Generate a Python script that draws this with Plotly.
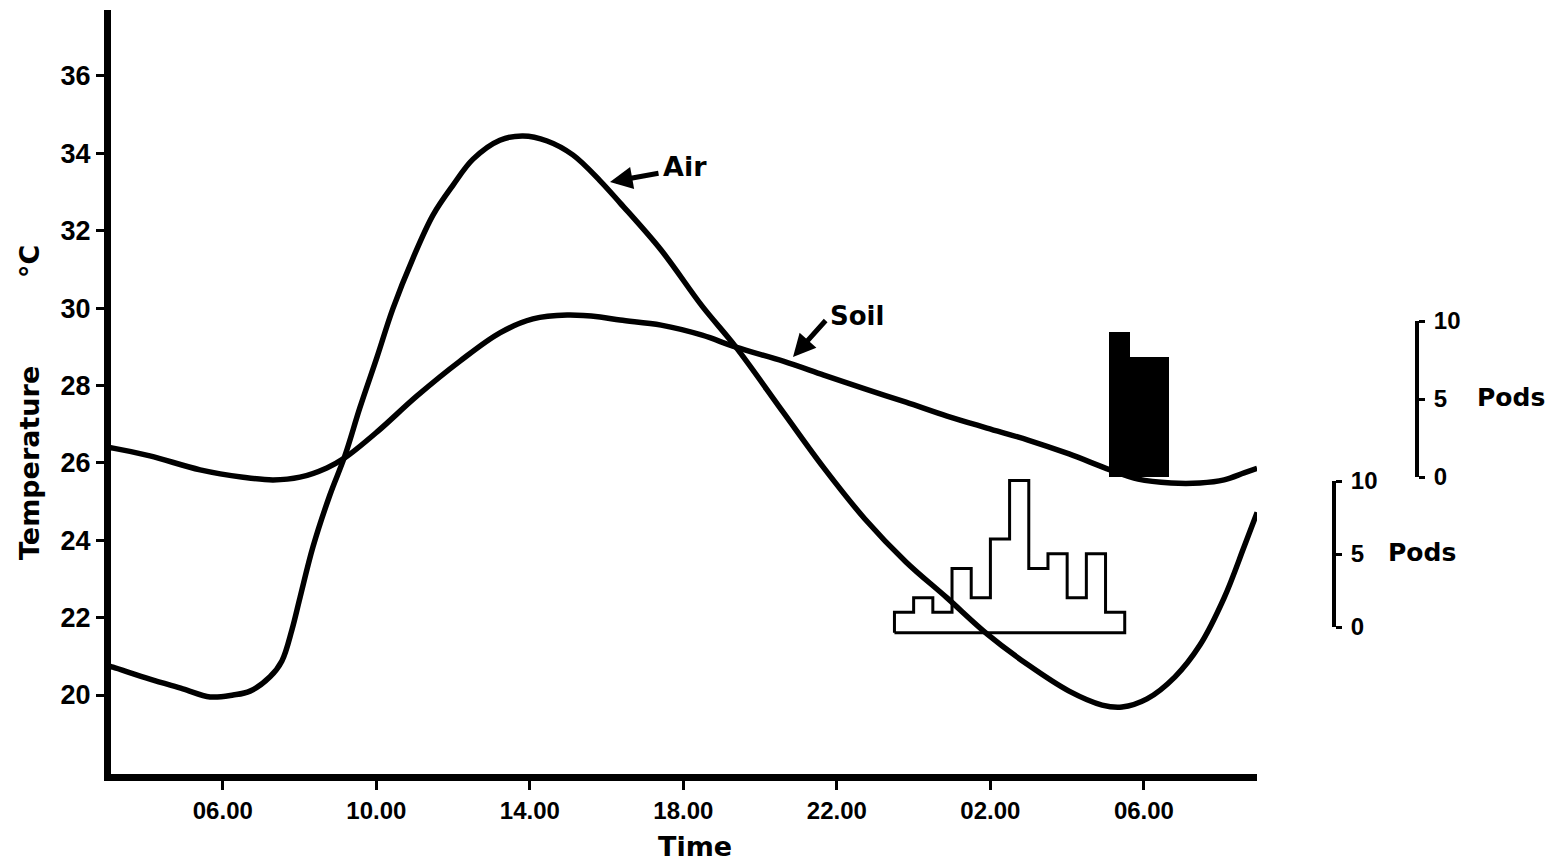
import plotly.graph_objects as go

# ---------------- data ----------------
air_hours = [3.0, 3.14, 4.10, 4.96, 5.67, 6.27, 6.71, 7.23, 7.54, 7.80, 8.01, 8.35, 8.79, 9.18,
             9.57, 10.02, 10.43, 10.96, 11.48, 12.00, 12.52, 13.22, 13.82, 14.45, 15.12, 15.83,
             16.35, 17.42, 18.49, 19.37, 20.60, 21.66, 22.73, 23.80, 24.87, 25.91, 26.98, 28.05,
             28.91, 29.43, 30.08, 30.81, 31.46, 32.09, 32.61, 32.95]
air_temp = [20.76, 20.72, 20.41, 20.16, 19.95, 20.0, 20.10, 20.47, 20.88, 21.68, 22.51, 23.83, 25.17, 26.18,
            27.42, 28.74, 29.98, 31.30, 32.41, 33.18, 33.85, 34.34, 34.45, 34.32, 33.96, 33.29,
            32.72, 31.50, 30.05, 28.99, 27.31, 25.87, 24.55, 23.44, 22.51, 21.58, 20.78, 20.10,
            19.74, 19.69, 19.90, 20.47, 21.29, 22.51, 23.83, 24.72]

soil_hours = [3.0, 3.14, 4.10, 5.41, 6.53, 7.31, 8.01, 8.71, 9.18, 10.02, 11.06, 12.18, 13.22, 14.08,
              14.97, 15.83, 16.35, 17.42, 18.49, 19.37, 20.60, 21.66, 22.73, 23.80, 24.87, 25.91,
              26.98, 28.05, 29.12, 29.85, 30.71, 31.46, 32.09, 32.61, 32.95]
soil_temp = [26.40, 26.38, 26.18, 25.82, 25.63, 25.56, 25.63, 25.87, 26.13, 26.80, 27.73, 28.63, 29.36, 29.72,
             29.82, 29.77, 29.69, 29.56, 29.30, 28.99, 28.63, 28.27, 27.91, 27.57, 27.21, 26.90,
             26.59, 26.23, 25.82, 25.58, 25.48, 25.48, 25.56, 25.74, 25.86]

time_tickvals = [6, 10, 14, 18, 22, 26, 30]
time_ticktext = ["06.00", "10.00", "14.00", "18.00", "22.00", "02.00", "06.00"]
temp_ticks = [20, 22, 24, 26, 28, 30, 32, 34, 36]

# open histogram (pods, lower scale)
open_edges = [23.5, 24.0, 24.5, 25.0, 25.5, 26.0, 26.5, 27.0, 27.5, 28.0, 28.5, 29.0, 29.5]
open_counts = [1, 2, 1, 4, 2, 6, 10, 4, 5, 2, 5, 1]
open_base = -0.4

# filled histogram (pods, upper scale)
filled_edges = [29.1, 29.65, 30.15, 30.65]
filled_counts = [9.3, 7.7, 7.7]

pod_ticks = [0, 5, 10]

# ---------------- geometry ----------------
W, H = 1557, 863
ML, MR, MT, MB = 111, 20, 10, 89
PW = W - ML - MR
PH = H - MT - MB
X_RIGHT_PX = 1257

def px_x(p):
    return (p - ML) / PW

def px_y(p):
    return (H - MB - p) / PH

BOLD = "Liberation Sans"
TXT = "DejaVu Sans"

fig = go.Figure()

fig.add_trace(go.Scatter(x=air_hours, y=air_temp, mode="lines",
                         line=dict(color="black", width=5.5, shape="spline", smoothing=1.0),
                         showlegend=False, hoverinfo="skip"))
fig.add_trace(go.Scatter(x=soil_hours, y=soil_temp, mode="lines",
                         line=dict(color="black", width=5.5, shape="spline", smoothing=1.0),
                         showlegend=False, hoverinfo="skip"))

# open histogram outline
ox = [open_edges[0]]
oy = [open_base]
for i, c in enumerate(open_counts):
    ox += [open_edges[i], open_edges[i + 1]]
    oy += [c, c]
ox += [open_edges[-1], open_edges[0]]
oy += [open_base, open_base]
fig.add_trace(go.Scatter(x=ox, y=oy, mode="lines", yaxis="y2",
                         line=dict(color="black", width=3), showlegend=False, hoverinfo="skip"))

# filled histogram
centers = [(filled_edges[i] + filled_edges[i + 1]) / 2 for i in range(len(filled_counts))]
widths = [filled_edges[i + 1] - filled_edges[i] for i in range(len(filled_counts))]
fig.add_trace(go.Bar(x=centers, y=filled_counts, width=widths, yaxis="y4",
                     marker=dict(color="black", line=dict(width=0)),
                     showlegend=False, hoverinfo="skip"))

# empty trace so that the lower pod scale exists
fig.add_trace(go.Scatter(x=[None], y=[None], yaxis="y3", showlegend=False, hoverinfo="skip"))

# ranges
x0 = 6 - (222.8 - ML) / 38.38
x1 = 6 + (X_RIGHT_PX - 222.8) / 38.38
y_bot = 20 - (H - MB - 695) / 38.69
y_top = 20 + (695 - MT) / 38.69
pod_px = 14.65
y2_bot = -(H - MB - 627) / pod_px
y2_top = (627 - MT) / pod_px

pod_axis = dict(range=[0, 10], tickvals=pod_ticks, anchor="free", side="right",
                showgrid=False, zeroline=False, showline=True, linecolor="black", linewidth=4,
                ticks="outside", ticklen=6, tickwidth=3, tickcolor="black",
                ticklabelstandoff=4, automargin=False,
                tickfont=dict(family=BOLD, size=24, color="black", weight="bold"))

fig.update_layout(
    width=W, height=H,
    margin=dict(l=ML, r=MR, t=MT, b=MB, autoexpand=False),
    paper_bgcolor="white", plot_bgcolor="rgba(0,0,0,0)",
    bargap=0,
    xaxis=dict(domain=[0, px_x(X_RIGHT_PX)], range=[x0, x1],
               tickvals=time_tickvals, ticktext=time_ticktext,
               showgrid=False, zeroline=False, showline=True, linecolor="black", linewidth=7,
               ticks="outside", ticklen=9, tickwidth=3, tickcolor="black",
               ticklabelstandoff=0, automargin=False,
               tickfont=dict(family="Liberation Sans Narrow, Liberation Sans", size=24,
                             color="black", weight="bold"),
               anchor="y"),
    yaxis=dict(domain=[0, 1], range=[y_bot, y_top], tickvals=temp_ticks,
               showgrid=False, zeroline=False, showline=True, linecolor="black", linewidth=7,
               ticks="outside", ticklen=8, tickwidth=3, tickcolor="black",
               ticklabelstandoff=0, automargin=False,
               tickfont=dict(family=BOLD, size=27, color="black", weight="bold"),
               anchor="x"),
    yaxis2=dict(overlaying="y", range=[y2_bot, y2_top], visible=False, automargin=False),
    yaxis3=dict(pod_axis, domain=[px_y(627), px_y(481)], position=px_x(1334)),
    yaxis4=dict(pod_axis, domain=[px_y(477), px_y(321)], position=px_x(1417)),
)

txt_font = lambda s: dict(family=TXT, size=s, color="black", weight="bold")

def hx(p):
    return 6 + (p - 222.8) / 38.38

def ty(p):
    return 20 + (695 - p) / 38.69

ann = [
    # axis titles
    dict(text="Time", xref="paper", yref="paper", x=px_x(695), y=px_y(846),
         showarrow=False, font=txt_font(27), xanchor="center", yanchor="middle"),
    dict(text="Temperature", xref="paper", yref="paper", x=px_x(30), y=px_y(463),
         showarrow=False, font=txt_font(27), textangle=-90, xanchor="center", yanchor="middle"),
    dict(text="°C", xref="paper", yref="paper", x=px_x(29), y=px_y(262),
         showarrow=False, font=txt_font(27), textangle=-90, xanchor="center", yanchor="middle"),
    dict(text="Pods", xref="paper", yref="paper", x=px_x(1511), y=px_y(397),
         showarrow=False, font=txt_font(25), xanchor="center", yanchor="middle"),
    dict(text="Pods", xref="paper", yref="paper", x=px_x(1422), y=px_y(552),
         showarrow=False, font=txt_font(25), xanchor="center", yanchor="middle"),
    # curve labels
    dict(text="Air", x=hx(685), y=ty(166), showarrow=False, font=txt_font(27),
         xanchor="center", yanchor="middle"),
    dict(text="Soil", x=hx(857), y=ty(316), showarrow=False, font=txt_font(26),
         xanchor="center", yanchor="middle"),
    # arrows
    dict(text="", x=hx(610), y=ty(182), ax=50, ay=-9, showarrow=True,
         arrowhead=2, arrowsize=0.9, arrowwidth=5, arrowcolor="black", standoff=0),
    dict(text="", x=hx(793), y=ty(357), ax=34, ay=-38, showarrow=True,
         arrowhead=2, arrowsize=0.9, arrowwidth=5, arrowcolor="black", standoff=0),
]
fig.update_layout(annotations=ann)

fig.write_html("out.html")
